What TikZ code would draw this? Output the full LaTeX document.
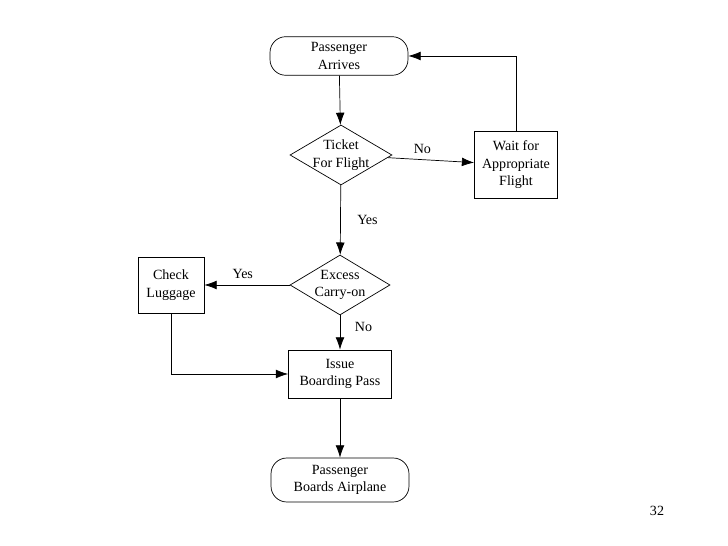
\documentclass[tikz,border=0pt]{standalone}
\usepackage{fontspec}
\setmainfont{Liberation Serif}
\usetikzlibrary{shapes.geometric,arrows.meta}

\begin{document}
\begin{tikzpicture}[x=0.02cm,y=-0.02cm,
        font=\fontsize{8}{10}\selectfont,
        terminal/.style={draw,rounded corners=9pt,minimum width=2.76cm,minimum height=0.74cm,align=center},
        process/.style={draw,align=center,inner sep=1pt},
        decision/.style={draw,diamond,minimum width=2.04cm,minimum height=1.2cm,inner sep=0pt},
        arrow/.style={-{Latex[length=7pt,width=5pt]}}]
    \useasboundingbox (0,0) rectangle (728,546);

    %% Nodes
    \node [terminal] (arrives) at (339,56) {Passenger\\Arrives};
    \node [decision,label={[align=center]center:Ticket\\For Flight}] (ticket) at (341,155) {};
    \node [process,minimum width=1.66cm,minimum height=1.34cm] (wait) at (516,165) {Wait for\\Appropriate\\Flight};
    \node [decision,minimum width=2cm,label={[align=center]center:Excess\\Carry-on}] (excess) at (340,285) {};
    \node [process,minimum width=1.32cm,minimum height=1.12cm] (check) at (171,285) {Check\\Luggage};
    \node [process,minimum width=2.06cm,minimum height=0.96cm] (issue) at (340,374) {Issue\\Boarding Pass};
    \node [terminal,minimum height=0.88cm] (boards) at (340,480) {Passenger\\Boards Airplane};
    \node (page) at (657,511) {32};

    %% Connectors
    \draw [arrow] (arrives) -- (ticket);
    \draw [arrow] (ticket) -- node [above,pos=0.4] {No} (wait);
    \draw [arrow] (wait.north) |- (arrives.east);
    \draw [arrow] (ticket) -- node [right,xshift=6pt] {Yes} (excess);
    \draw [arrow] (excess) -- node [above,pos=0.55] {Yes} (check);
    \draw [arrow] (excess) -- node [right,xshift=5pt,pos=0.35] {No} (issue);
    \draw [arrow] (check.south) |- (issue.west);
    \draw [arrow] (issue) -- (boards);
\end{tikzpicture}
\end{document}
